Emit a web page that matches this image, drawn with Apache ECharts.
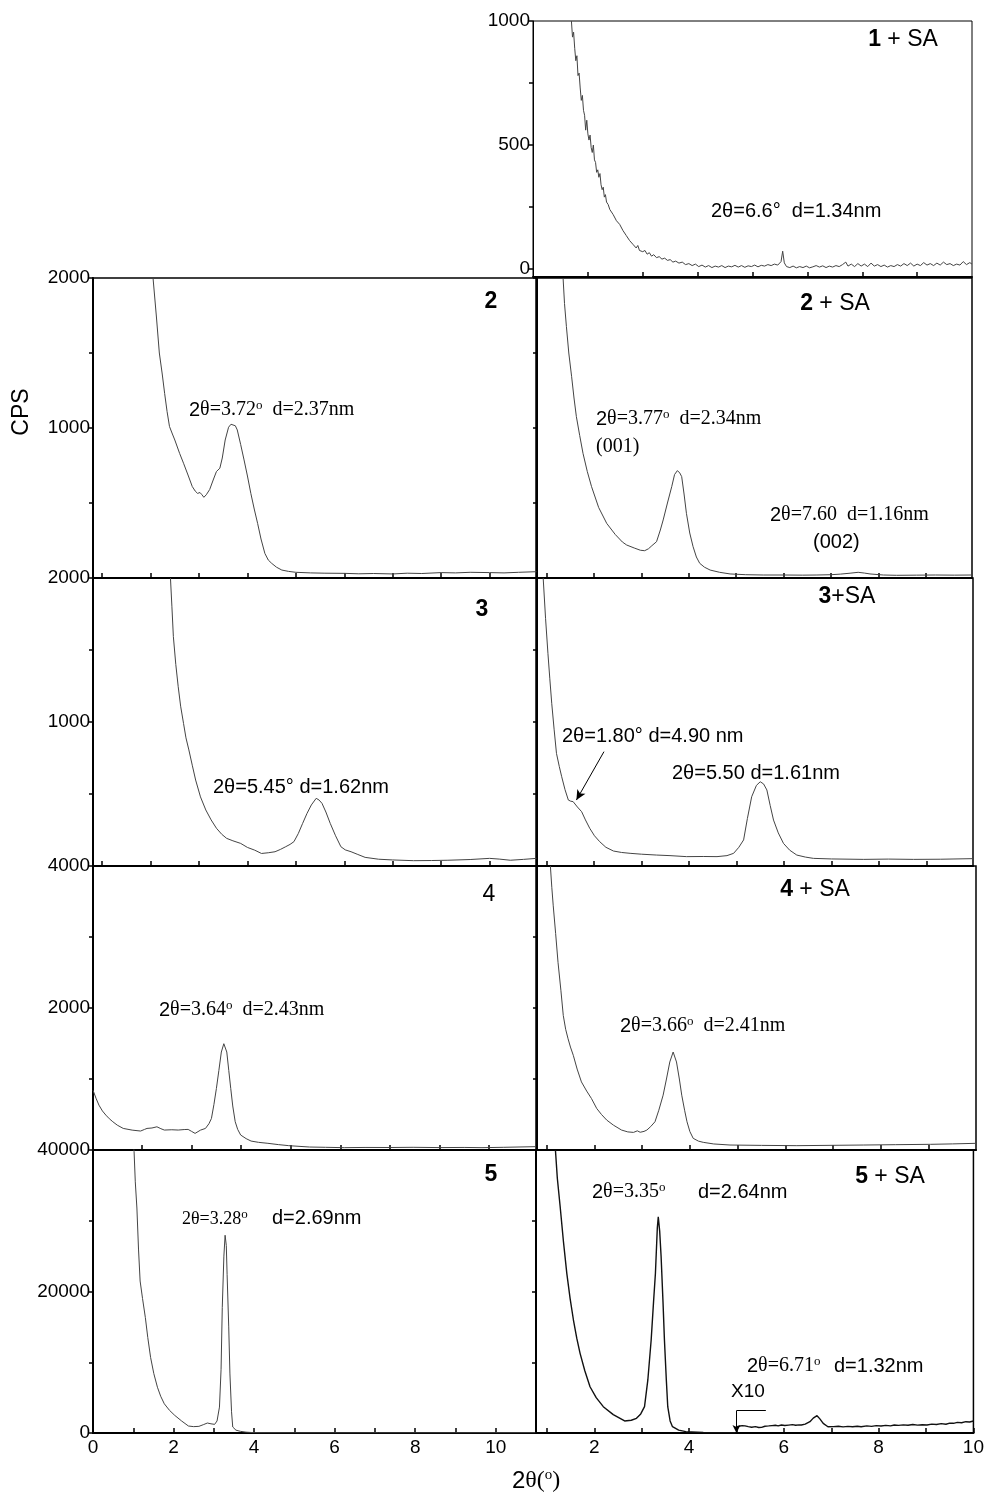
<!DOCTYPE html>
<html>
<head>
<meta charset="utf-8">
<title>XRD patterns</title>
<script src="https://cdn.jsdelivr.net/npm/echarts@6/dist/echarts.min.js"></script>
<style>
  html, body { margin: 0; padding: 0; background: #fff; }
  #chart { width: 987px; height: 1495px; }
</style>
</head>
<body>
<div id="chart"></div>
<script>
  const SANS = '"Liberation Sans", Arial, sans-serif';
  const SERIF = '"Liberation Serif", "Times New Roman", serif';

  // ---- data: [2theta, CPS] ----
  const xrd1SA = [[2.70,1000],[2.72,935],[2.74,955],[2.76,890],[2.78,840],[2.80,860],[2.82,780],[2.84,790],[2.86,730],[2.88,680],[2.90,700],[2.92,640],[2.94,620],[2.96,560],[2.98,600],[3.00,545],[3.02,520],[3.04,540],[3.06,490],[3.08,470],[3.10,500],[3.12,440],[3.14,430],[3.16,390],[3.18,400],[3.20,370],[3.22,385],[3.24,340],[3.26,320],[3.28,330],[3.30,290],[3.32,300],[3.34,270],[3.37,260],[3.40,240],[3.43,245],[3.46,220],[3.49,225],[3.52,195],[3.55,200],[3.58,180],[3.61,175],[3.64,155],[3.67,160],[3.70,135],[3.73,140],[3.76,115],[3.79,120],[3.82,100],[3.85,105],[3.88,85],[3.91,95],[3.94,75],[3.97,82],[4.00,70],[4.04,75],[4.08,60],[4.12,66],[4.16,52],[4.20,58],[4.25,46],[4.30,50],[4.35,40],[4.40,44],[4.45,35],[4.50,38],[4.55,28],[4.60,32],[4.66,24],[4.72,28],[4.78,18],[4.84,22],[4.90,14],[4.96,20],[5.02,10],[5.08,16],[5.14,8],[5.20,14],[5.26,6],[5.32,12],[5.38,8],[5.44,14],[5.50,6],[5.56,12],[5.62,9],[5.68,15],[5.74,8],[5.80,14],[5.86,7],[5.92,13],[5.98,10],[6.04,16],[6.10,9],[6.16,15],[6.22,12],[6.28,18],[6.34,14],[6.40,20],[6.46,16],[6.52,30],[6.55,72],[6.58,25],[6.62,10],[6.68,6],[6.74,12],[6.80,5],[6.86,10],[6.92,6],[6.98,12],[7.04,5],[7.10,9],[7.16,14],[7.22,8],[7.28,13],[7.34,6],[7.40,12],[7.46,8],[7.52,14],[7.58,10],[7.64,18],[7.70,28],[7.74,12],[7.80,20],[7.86,10],[7.92,22],[7.98,12],[8.04,20],[8.10,10],[8.16,24],[8.22,12],[8.28,18],[8.34,10],[8.40,16],[8.46,8],[8.52,14],[8.58,10],[8.64,18],[8.70,12],[8.76,22],[8.82,14],[8.88,24],[8.94,12],[9.00,20],[9.06,14],[9.12,26],[9.18,16],[9.24,22],[9.30,14],[9.36,24],[9.42,16],[9.48,28],[9.54,18],[9.60,22],[9.66,14],[9.72,20],[9.78,16],[9.84,30],[9.90,18],[9.96,26],[10.0,20]];

  const xrd2 = [[2.05,2000],[2.12,1740],[2.18,1500],[2.24,1360],[2.29,1230],[2.34,1110],[2.39,1010],[2.45,960],[2.50,920],[2.60,830],[2.68,765],[2.78,680],[2.86,610],[2.92,580],[2.97,564],[3.02,570],[3.06,555],[3.10,538],[3.15,555],[3.22,590],[3.30,660],[3.36,710],[3.43,732],[3.48,800],[3.54,920],[3.61,1005],[3.66,1025],[3.70,1031],[3.75,1015],[3.79,987],[3.86,890],[3.93,787],[4.00,680],[4.07,564],[4.14,460],[4.21,364],[4.28,260],[4.36,164],[4.43,120],[4.50,98],[4.60,72],[4.71,53],[4.85,44],[5.0,38],[5.3,34],[5.6,32],[6.0,31],[6.3,28],[6.6,30],[7.0,27],[7.3,32],[7.6,30],[8.0,36],[8.3,34],[8.6,38],[9.0,36],[9.3,34],[9.6,38],[9.97,42]];

  const xrd2SA = [[1.35,2000],[1.38,1830],[1.42,1676],[1.47,1500],[1.53,1342],[1.58,1200],[1.63,1076],[1.70,950],[1.77,831],[1.86,710],[1.95,609],[2.10,470],[2.27,364],[2.45,290],[2.60,240],[2.69,220],[2.85,200],[2.98,185],[3.07,182],[3.15,195],[3.22,215],[3.32,242],[3.40,320],[3.46,387],[3.55,500],[3.64,609],[3.70,690],[3.76,716],[3.81,700],[3.85,676],[3.90,560],[3.95,431],[4.02,300],[4.09,209],[4.16,140],[4.23,98],[4.33,72],[4.45,53],[4.65,38],[4.87,27],[5.2,22],[5.57,20],[6.0,20],[6.4,19],[6.70,20],[7.0,22],[7.20,26],[7.40,32],[7.57,38],[7.70,33],[7.82,27],[8.10,20],[8.38,18],[8.8,19],[9.2,20],[9.6,19],[9.97,20]];

  const xrd3 = [[2.41,2000],[2.44,1800],[2.47,1593],[2.52,1400],[2.57,1245],[2.62,1110],[2.68,990],[2.73,890],[2.79,806],[2.86,700],[2.93,597],[3.03,480],[3.14,389],[3.25,320],[3.36,262],[3.47,220],[3.57,192],[3.70,175],[3.86,157],[4.0,129],[4.15,110],[4.29,87],[4.43,92],[4.57,99],[4.68,115],[4.79,134],[4.88,150],[4.96,169],[5.05,225],[5.14,296],[5.23,365],[5.32,424],[5.42,470],[5.48,458],[5.54,435],[5.62,375],[5.71,296],[5.82,210],[5.93,134],[6.02,112],[6.14,99],[6.28,80],[6.43,60],[6.71,47],[7.0,42],[7.43,37],[7.8,38],[8.14,40],[8.6,45],[9.0,53],[9.2,48],[9.43,40],[9.7,46],[9.97,53]];

  const xrd3SA = [[0.93,2000],[0.98,1720],[1.03,1477],[1.07,1300],[1.11,1130],[1.16,950],[1.21,782],[1.27,690],[1.32,620],[1.39,530],[1.46,458],[1.51,450],[1.56,447],[1.65,410],[1.74,377],[1.82,320],[1.91,262],[2.01,210],[2.12,169],[2.25,130],[2.41,104],[2.58,94],[2.76,88],[3.0,82],[3.32,76],[3.6,72],[3.95,65],[4.3,66],[4.59,65],[4.80,72],[4.94,88],[5.05,130],[5.15,181],[5.23,330],[5.32,481],[5.42,560],[5.50,585],[5.57,570],[5.64,528],[5.71,420],[5.78,319],[5.88,230],[5.99,157],[6.12,110],[6.27,76],[6.45,62],[6.62,53],[7.0,49],[7.68,46],[8.2,48],[8.73,46],[9.3,47],[9.97,51]];

  const xrd4 = [[1.01,842],[1.07,730],[1.13,632],[1.20,550],[1.27,491],[1.34,440],[1.41,398],[1.50,350],[1.62,304],[1.80,280],[1.97,267],[2.05,290],[2.10,304],[2.20,310],[2.30,327],[2.38,300],[2.45,281],[2.60,285],[2.73,281],[2.85,288],[2.93,290],[3.00,262],[3.07,234],[3.18,280],[3.28,304],[3.35,370],[3.40,444],[3.45,640],[3.50,865],[3.55,1120],[3.60,1380],[3.65,1497],[3.71,1380],[3.75,1120],[3.79,865],[3.83,620],[3.88,398],[3.93,290],[3.99,211],[4.10,160],[4.20,126],[4.35,108],[4.54,94],[4.75,76],[4.96,61],[5.38,42],[5.7,38],[6.08,33],[6.5,36],[7.0,35],[7.47,38],[8.0,34],[8.5,36],[8.86,33],[9.3,38],[9.94,47]];

  const xrd4SA = [[1.08,4000],[1.11,3700],[1.14,3439],[1.19,3050],[1.24,2643],[1.30,2250],[1.35,1895],[1.40,1700],[1.45,1567],[1.50,1450],[1.56,1333],[1.64,1140],[1.73,959],[1.84,830],[1.94,725],[2.05,585],[2.15,500],[2.26,421],[2.40,350],[2.57,281],[2.70,255],[2.82,248],[2.90,270],[2.96,250],[3.04,262],[3.10,281],[3.18,330],[3.27,398],[3.35,560],[3.44,772],[3.51,1000],[3.58,1240],[3.65,1380],[3.72,1240],[3.78,1000],[3.83,772],[3.89,560],[3.94,398],[4.00,260],[4.07,164],[4.18,125],[4.28,108],[4.50,85],[4.84,70],[5.5,65],[6.24,61],[7.0,66],[7.64,70],[8.3,75],[9.04,80],[9.5,86],[9.99,94]];

  const xrd5 = [[1.0,41000],[1.02,39770],[1.05,35500],[1.09,31800],[1.13,26000],[1.17,21480],[1.23,19000],[1.30,16320],[1.36,13500],[1.43,10690],[1.51,8400],[1.60,6470],[1.68,5200],[1.77,4130],[1.90,3200],[2.03,2490],[2.20,1700],[2.37,985],[2.50,900],[2.63,940],[2.75,1200],[2.84,1410],[2.93,1300],[3.02,1220],[3.08,1700],[3.14,3660],[3.18,9000],[3.21,17730],[3.25,25000],[3.28,27950],[3.31,26500],[3.33,22420],[3.37,15000],[3.40,8350],[3.44,3000],[3.47,845],[3.55,400],[3.66,235],[3.8,120],[4.0,47],[5.0,30],[6.0,25],[7.09,35],[8.0,30],[9.0,35],[10.0,40],[10.98,50]];

  const xrd5SA = [[1.18,40000],[1.22,36000],[1.28,31980],[1.35,27000],[1.42,22570],[1.49,19000],[1.56,15970],[1.63,13400],[1.70,11260],[1.80,8800],[1.91,6540],[2.04,5000],[2.19,3720],[2.40,2600],[2.64,1700],[2.78,1800],[2.89,2070],[2.98,2700],[3.06,3720],[3.13,7500],[3.20,13140],[3.25,18500],[3.29,22570],[3.33,29000],[3.35,30570],[3.38,28500],[3.41,24910],[3.45,18500],[3.48,13140],[3.52,7500],[3.55,3720],[3.60,1700],[3.65,890],[3.78,400],[3.93,190],[4.3,80],[4.7,50],[4.98,40]];

  // 5 + SA from 5 degrees on, plotted x10
  const xrd5SAx10 = [[5.0,870],[5.05,960],[5.12,1050],[5.18,1000],[5.25,900],[5.32,820],[5.40,900],[5.47,780],[5.53,800],[5.60,950],[5.68,1000],[5.75,1050],[5.82,1100],[5.88,1000],[5.95,1130],[6.02,1060],[6.10,1120],[6.18,1180],[6.25,1090],[6.32,1150],[6.37,1130],[6.45,1250],[6.55,1600],[6.62,2100],[6.70,2450],[6.76,2000],[6.83,1370],[6.93,890],[7.05,900],[7.15,960],[7.25,870],[7.35,940],[7.45,880],[7.55,960],[7.63,890],[7.75,1000],[7.85,930],[7.95,1050],[8.05,980],[8.15,1080],[8.25,1000],[8.33,1130],[8.42,1080],[8.52,1150],[8.62,1100],[8.72,1200],[8.82,1120],[8.92,1170],[9.02,1130],[9.12,1260],[9.22,1200],[9.32,1320],[9.42,1240],[9.50,1400],[9.58,1370],[9.66,1500],[9.75,1450],[9.84,1600],[9.92,1550],[10.0,1700]];

  // tick / label values
  const ticks1to9 = [1, 2, 3, 4, 5, 6, 7, 8, 9];
  const ticks1to10 = [1, 2, 3, 4, 5, 6, 7, 8, 9, 10];
  const ticks0to11 = [0, 1, 2, 3, 4, 5, 6, 7, 8, 9, 10, 11];
  const labels0to10 = [0, 2, 4, 6, 8, 10];
  const labels2to10 = [2, 4, 6, 8, 10];
  const y1kTicks = [0, 250, 500, 750, 1000];
  const y1kLabels = [0, 500, 1000];
  const y2kTicks = [500, 1000, 1500, 2000];
  const y2kLabels = [1000, 2000];
  const y4kTicks = [1000, 2000, 3000, 4000];
  const y4kLabels = [2000, 4000];
  const y40kTicks = [0, 10000, 20000, 30000, 40000];
  const y40kLabels = [0, 20000, 40000];

  // panel layout: [left, top, width, height] in px
  const panels = [
    { data: xrd1SA, box: [533, 21, 439, 256], x: [2, 10], xt: [3, 4, 5, 6, 7, 8, 9], xl: [], y: [-32, 1000], yt: y1kTicks, yl: y1kLabels, thin: true },
    { data: xrd2, box: [93, 278, 443, 300], x: [0.81, 9.96], xt: ticks1to9, xl: [], y: [0, 2000], yt: y2kTicks, yl: y2kLabels },
    { data: xrd2SA, box: [537, 278, 435, 300], x: [0.8, 9.97], xt: ticks1to9, xl: [], y: [0, 2000], yt: y2kTicks, yl: [] },
    { data: xrd3, box: [93, 578, 443, 288], x: [0.81, 9.96], xt: ticks1to9, xl: [], y: [0, 2000], yt: y2kTicks, yl: y2kLabels },
    { data: xrd3SA, box: [537, 578, 436, 288], x: [0.8, 9.98], xt: ticks1to9, xl: [], y: [0, 2000], yt: y2kTicks, yl: [] },
    { data: xrd4, box: [93, 866, 443, 284], x: [1.01, 9.95], xt: [2, 3, 4, 5, 6, 7, 8, 9], xl: [], y: [0, 4000], yt: y4kTicks, yl: y4kLabels },
    { data: xrd4SA, box: [537, 866, 439, 284], x: [0.8, 9.99], xt: ticks1to9, xl: [], y: [0, 4000], yt: y4kTicks, yl: [] },
    { data: xrd5, box: [93, 1150, 443, 283], x: [0, 11], xt: ticks0to11, xl: labels0to10, y: [0, 40000], yt: y40kTicks, yl: y40kLabels },
    { data: xrd5SA, box: [536, 1150, 442, 283], x: [0.77, 10], xt: ticks1to10, xl: labels2to10, y: [0, 40000], yt: y40kTicks, yl: [], bold: true }
  ];

  const plain = v => String(v);

  const grid = [], xAxis = [], yAxis = [], series = [];
  panels.forEach((p, i) => {
    grid.push({
      left: p.box[0], top: p.box[1], width: p.box[2], height: p.box[3],
      show: true, borderColor: '#000', borderWidth: p.thin ? 1 : 1.5
    });
    xAxis.push({
      type: 'value', gridIndex: i, min: p.x[0], max: p.x[1],
      splitLine: { show: false },
      axisLine: { onZero: false, lineStyle: { color: '#000', width: 2 } },
      axisTick: { inside: true, length: 5, customValues: p.xt, lineStyle: { color: '#000', width: 1.5 } },
      axisLabel: { show: p.xl.length > 0, customValues: p.xl, formatter: plain, color: '#000', fontSize: 19, fontFamily: SANS, margin: 5 }
    });
    yAxis.push({
      type: 'value', gridIndex: i, min: p.y[0], max: p.y[1],
      splitLine: { show: false },
      axisLine: { onZero: false, lineStyle: { color: '#000', width: p.thin ? 1 : 2 } },
      axisTick: { inside: false, length: 4, customValues: p.yt, lineStyle: { color: '#000', width: 1.5 } },
      axisLabel: { show: p.yl.length > 0, customValues: p.yl, formatter: plain, color: '#000', fontSize: 19, fontFamily: SANS, margin: 3 }
    });
    series.push({
      type: 'line', xAxisIndex: i, yAxisIndex: i, data: p.data,
      showSymbol: false, silent: true,
      lineStyle: { color: p.bold ? '#111' : '#444', width: p.bold ? 1.4 : 1 }
    });
  });

  // arrow pointing at the 1.80 degree shoulder of 3 + SA
  series[4].markLine = {
    silent: true, symbol: ['none', 'arrow'], symbolSize: [7, 10],
    label: { show: false },
    lineStyle: { color: '#000', width: 1, type: 'solid' },
    data: [[{ coord: [2.21, 794] }, { coord: [1.63, 458] }]]
  };

  // x10 part of 5 + SA with its bracket
  series.push({
    type: 'line', xAxisIndex: 8, yAxisIndex: 8, data: xrd5SAx10,
    showSymbol: false, silent: true,
    lineStyle: { color: '#111', width: 1.4 },
    markLine: {
      silent: true, symbol: ['none', 'arrow'], symbolSize: [6, 8],
      label: { show: false },
      lineStyle: { color: '#000', width: 1, type: 'solid' },
      data: [
        [{ coord: [5.62, 3150] }, { coord: [5.0, 3150], symbol: 'none' }],
        [{ coord: [5.0, 3150] }, { coord: [5.0, 0] }]
      ]
    }
  });

  const RICH = {
    s: { fontFamily: SANS, fontSize: 20, lineHeight: 22, fill: '#000' },
    t: { fontFamily: SERIF, fontSize: 20, lineHeight: 22, fill: '#000' },
    t2: { fontFamily: SERIF, fontSize: 18, lineHeight: 22, fill: '#000' },
    sup: { fontFamily: SERIF, fontSize: 13, lineHeight: 11, fill: '#000', verticalAlign: 'top' },
    b: { fontFamily: SANS, fontSize: 23, fontWeight: 'bold', fill: '#000' },
    n: { fontFamily: SANS, fontSize: 23, fill: '#000' },
    x: { fontFamily: SANS, fontSize: 19, fill: '#000' },
    big: { fontFamily: SANS, fontSize: 24, lineHeight: 26, fill: '#000' },
    bigt: { fontFamily: SERIF, fontSize: 24, lineHeight: 26, fill: '#000' },
    bigsup: { fontFamily: SERIF, fontSize: 15, lineHeight: 13, fill: '#000', verticalAlign: 'top' }
  };

  function note(x, y, text, align) {
    return {
      type: 'text', x: x, y: y, silent: true, z: 100,
      style: { text: text, rich: RICH, align: align || 'left', verticalAlign: 'middle' }
    };
  }

  const notes = [
    note(903, 40, '{b|1}{n| + SA}', 'center'),
    note(711, 211, '{s|2θ=6.6°  d=1.34nm}'),
    note(491, 302, '{b|2}', 'center'),
    note(189, 410, '{s|2}{t|θ=3.72}{sup|o}{t|  d=2.37nm}'),
    note(835, 304, '{b|2}{n| + SA}', 'center'),
    note(596, 419, '{s|2}{t|θ=3.77}{sup|o}{t|  d=2.34nm}'),
    note(596, 447, '{t|(001)}'),
    note(770, 515, '{s|2}{t|θ=7.60  d=1.16nm}'),
    note(813, 542, '{s|(002)}'),
    note(482, 610, '{b|3}', 'center'),
    note(213, 787, '{s|2θ=5.45° d=1.62nm}'),
    note(847, 597, '{b|3}{n|+SA}', 'center'),
    note(562, 736, '{s|2θ=1.80° d=4.90 nm}'),
    note(672, 773, '{s|2θ=5.50 d=1.61nm}'),
    note(489, 895, '{n|4}', 'center'),
    note(159, 1010, '{s|2}{t|θ=3.64}{sup|o}{t|  d=2.43nm}'),
    note(815, 890, '{b|4}{n| + SA}', 'center'),
    note(620, 1026, '{s|2}{t|θ=3.66}{sup|o}{t|  d=2.41nm}'),
    note(491, 1175, '{b|5}', 'center'),
    note(182, 1219, '{t2|2θ=3.28}{sup|o}'),
    note(272, 1218, '{s|d=2.69nm}'),
    note(890, 1177, '{b|5}{n| + SA}', 'center'),
    note(592, 1192, '{s|2}{t|θ=3.35}{sup|o}'),
    note(698, 1192, '{s|d=2.64nm}'),
    note(747, 1366, '{s|2}{t|θ=6.71}{sup|o}'),
    note(834, 1366, '{s|d=1.32nm}'),
    note(748, 1392, '{x|X10}', 'center'),
    note(512, 1481, '{big|2}{bigt|θ(}{bigsup|o}{bigt|)}'),
    {
      type: 'text', x: 22, y: 412, rotation: Math.PI / 2, silent: true,
      style: { text: 'CPS', fontFamily: SANS, fontSize: 23, fill: '#000', align: 'center', verticalAlign: 'middle' }
    }
  ];

  const chart = echarts.init(document.getElementById('chart'), null, { renderer: 'canvas' });
  chart.setOption({
    animation: false,
    backgroundColor: '#fff',
    grid: grid,
    xAxis: xAxis,
    yAxis: yAxis,
    series: series,
    graphic: { elements: notes }
  });
</script>
</body>
</html>
